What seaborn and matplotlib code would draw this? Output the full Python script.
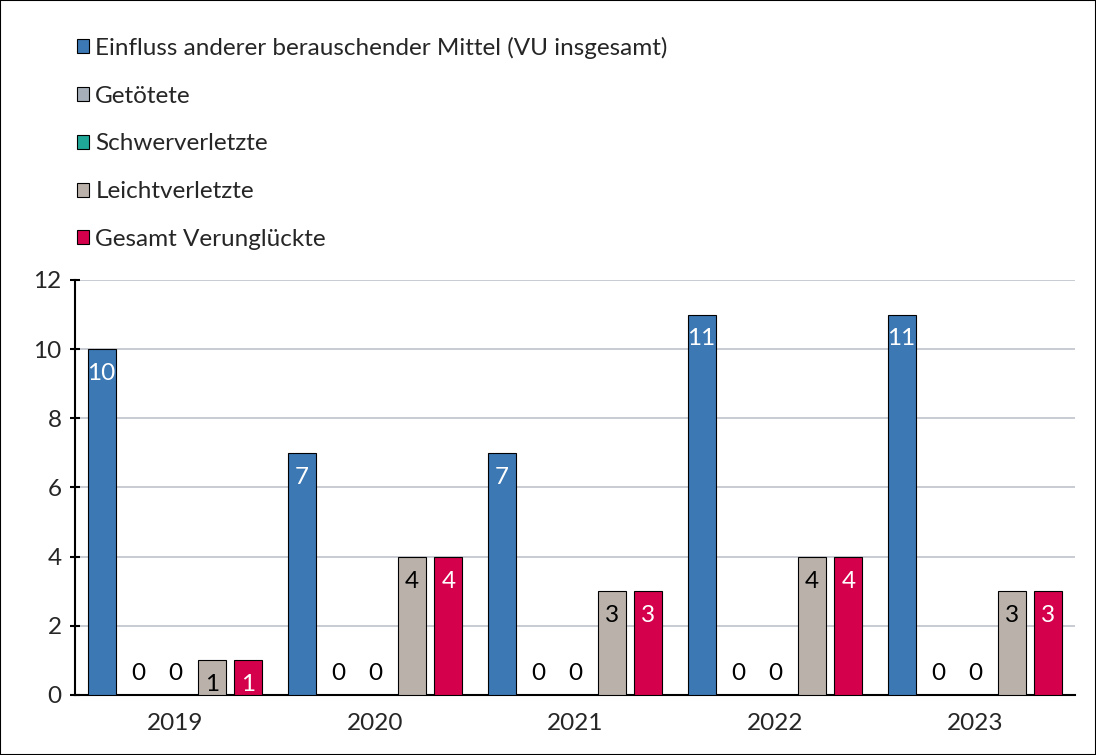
import matplotlib
matplotlib.use('Agg')
import matplotlib.pyplot as plt
from matplotlib.patches import Patch, Rectangle
import pandas as pd
import seaborn as sns

# data
years = ['2019', '2020', '2021', '2022', '2023']
series = ['Einfluss anderer berauschender Mittel (VU insgesamt)', 'Getötete',
          'Schwerverletzte', 'Leichtverletzte', 'Gesamt Verunglückte']
vu_total = [10, 7, 7, 11, 11]
getoetete = [0, 0, 0, 0, 0]
schwer = [0, 0, 0, 0, 0]
leicht = [1, 4, 3, 4, 3]
gesamt = [1, 4, 3, 4, 3]

colors = ['#3C78B4', '#A6AEB9', '#1FA898', '#BAB1AA', '#D5004B']
label_colors = ['white', 'black', 'black', 'black', 'white']

rows = []
for name, vals in zip(series, [vu_total, getoetete, schwer, leicht, gesamt]):
    for y, v in zip(years, vals):
        rows.append({'Jahr': y, 'Serie': name, 'Wert': v})
df = pd.DataFrame(rows)

sns.set_style('white')
plt.rcParams['font.family'] = ['Lato', 'DejaVu Sans']
fs = 17.5

fig = plt.figure(figsize=(10.96, 7.55), dpi=100)
ax = fig.add_axes([0.0684, 0.0795, 0.9124, 0.5497])

sns.barplot(data=df, x='Jahr', y='Wert', hue='Serie', hue_order=series,
            palette=colors, saturation=1, width=0.917, gap=0.24, edgecolor='black',
            linewidth=0.8, ax=ax, legend=False, zorder=3)

# data labels
for i, cont in enumerate(ax.containers):
    for p in cont.patches:
        h = p.get_height()
        xc = p.get_x() + p.get_width() / 2
        if h > 0:
            ax.annotate(f'{h:.0f}', (xc, h), xytext=(0, -10), textcoords='offset points',
                        ha='center', va='top', fontsize=fs, color=label_colors[i], zorder=4)
        else:
            ax.annotate(f'{h:.0f}', (xc, h), xytext=(0, 8), textcoords='offset points',
                        ha='center', va='bottom', fontsize=fs, color='black', zorder=4)

ax.set_ylim(0, 12)
ax.set_xlim(-0.5, 4.5)
ax.set_yticks(range(0, 13, 2))
ax.yaxis.grid(True, color='#BFC4CB', linewidth=1.2, zorder=0)
ax.set_axisbelow(True)
ax.set_xlabel('')
ax.set_ylabel('')
for s in ['top', 'right']:
    ax.spines[s].set_visible(False)
for s in ['left', 'bottom']:
    ax.spines[s].set_color('black')
    ax.spines[s].set_linewidth(1.5)

ax.set_xticks(range(5))
ax.set_xticklabels(years)
ax.tick_params(axis='x', length=0, labelsize=fs, pad=13)
ax.set_xticks([x - 0.5 for x in range(6)], minor=True)
ax.tick_params(axis='x', which='minor', length=8, width=1.5, direction='inout', color='black')
ax.tick_params(axis='y', length=7, width=1.5, direction='inout', labelsize=fs, pad=6, color='black', left=True)

handles = [Patch(facecolor=c, edgecolor='black', linewidth=0.8) for c in colors]
fig.legend(handles, series, loc='upper left', bbox_to_anchor=(0.0615, 0.964),
           frameon=False, fontsize=fs, handlelength=0.5, handleheight=0.5,
           handletextpad=0.25, labelspacing=1.1, borderaxespad=0)

fig.patches.append(Rectangle((0, 0), 1, 1, transform=fig.transFigure, fill=False,
                             edgecolor='black', linewidth=1.5))

fig.savefig('out.png', dpi=100)
